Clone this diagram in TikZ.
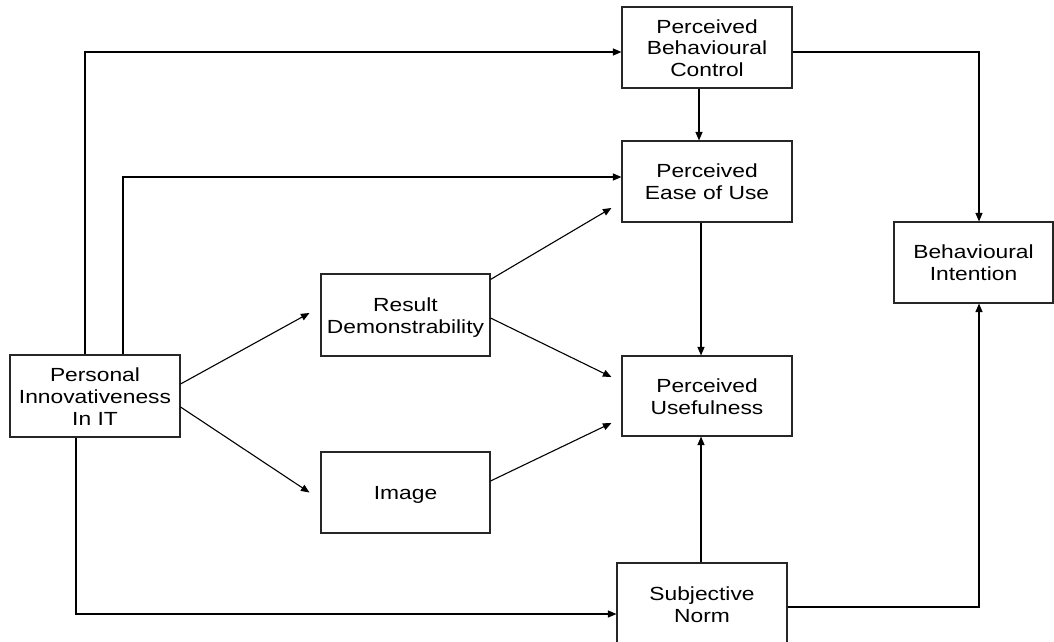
\documentclass[tikz,border=0pt]{standalone}
\usepackage{fontspec}
\usepackage{graphicx}
\setmainfont{Liberation Sans}
\usetikzlibrary{arrows.meta}
% wide box label: centred lines, stretched horizontally, set a little low
\newcommand{\boxlabel}[1]{\raisebox{-3pt}[\height][\depth]{\scalebox{1.2}[1]{\fontsize{19}{21.7}\selectfont\begin{tabular}{@{}c@{}}#1\end{tabular}}}}
\tikzset{
  box/.style={draw=black!85, line width=1.1pt, rectangle, inner sep=0pt,
              minimum width=170pt, minimum height=81pt, align=center},
  link/.style={draw=black, line width=1.1pt},
  arr/.style={link, -{Triangle[length=8.5pt,width=7pt]}}
}
\begin{document}
\begin{tikzpicture}[x=1pt,y=-1pt]
\clip (0,0) rectangle (1054,642);
\useasboundingbox (0,0) rectangle (1054,642);

% constructs
\node[box] (pbc)  at (707,47.5)   {\boxlabel{Perceived\\Behavioural\\Control}};
\node[box] (peou) at (707,181.5)  {\boxlabel{Perceived\\Ease of Use}};
\node[box, minimum width=159pt] (bi) at (973.5,262.5) {\boxlabel{Behavioural\\Intention}};
\node[box, minimum width=169pt, minimum height=82pt] (rd) at (405.5,315) {\boxlabel{Result\\Demonstrability}};
\node[box, minimum height=82pt] (pii) at (95,396) {\boxlabel{Personal\\Innovativeness\\In IT}};
\node[box, minimum height=80pt] (pu) at (707,396) {\boxlabel{Perceived\\Usefulness}};
\node[box, minimum width=169pt] (img) at (405.5,492.5) {\boxlabel{Image}};
\node[box, minimum height=82pt] (sn) at (702,604) {\boxlabel{Subjective\\Norm}};

% personal innovativeness paths
\draw[arr] ([xshift=-10pt]pii.north) |- ([yshift=-4.5pt]pbc.west);
\draw[arr] ([xshift=28pt]pii.north) |- ([yshift=4.5pt]peou.west);
\draw[arr] ([xshift=-19pt]pii.south) |- ([yshift=-10pt]sn.west);
\draw[arr] ([yshift=12pt]pii.east) -- ([xshift=-11pt,yshift=2pt]rd.west);
\draw[arr] ([yshift=-11pt]pii.east) -- ([xshift=-11pt]img.west);

% middle column
\draw[arr] ([yshift=-6pt]rd.north east) -- ([xshift=-10pt,yshift=-26.5pt]peou.west);
\draw[arr] ([yshift=-3pt]rd.east) -- ([xshift=-10pt,yshift=19pt]pu.west);
\draw[arr] ([yshift=11.5pt]img.east) -- ([xshift=-10pt,yshift=-27pt]pu.west);

% vertical links
\draw[arr] ([xshift=-8pt]pbc.south) -- ([xshift=-8pt]peou.north);
\draw[arr] ([xshift=-6pt]peou.south) -- ([xshift=-6pt]pu.north);
\draw[arr] ([xshift=-1pt]sn.north) -- ([xshift=-6pt]pu.south);

% to behavioural intention
\draw[arr] ([yshift=-4.5pt]pbc.east) -| ([xshift=5.5pt]bi.north);
\draw[arr] ([yshift=-3pt]sn.east) -| ([xshift=5.5pt]bi.south);
\end{tikzpicture}
\end{document}
